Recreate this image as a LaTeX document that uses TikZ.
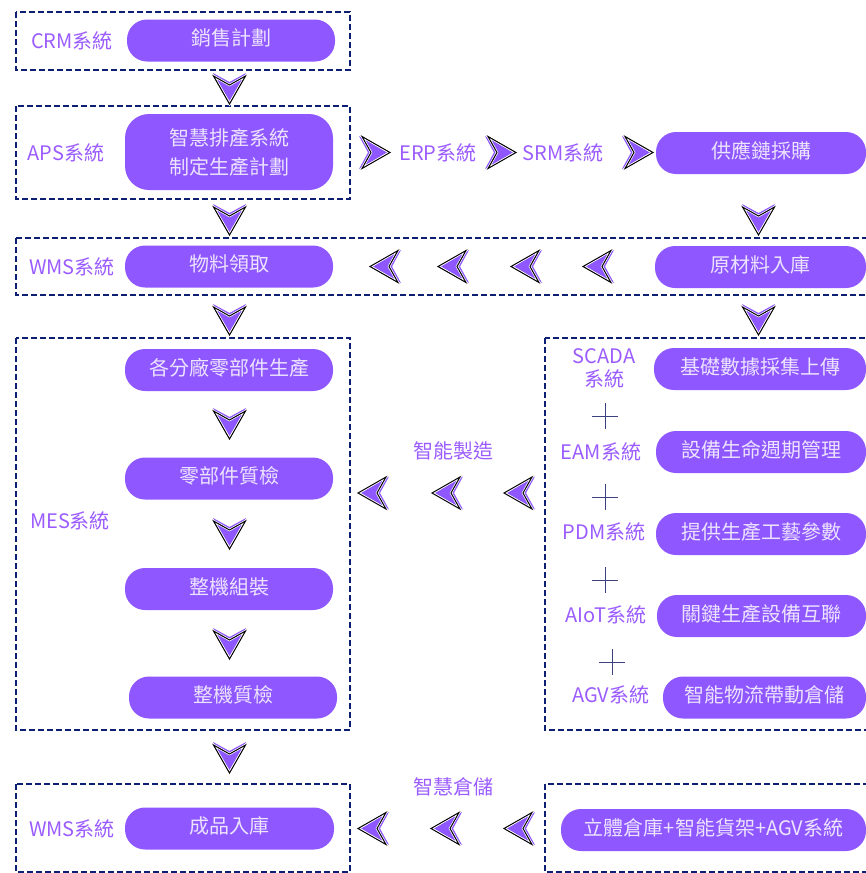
\documentclass[tikz,border=0pt]{standalone}
\usepackage{fontspec}
\setmainfont{Noto Sans CJK TC}
\definecolor{pillc}{HTML}{8F57FF}
\definecolor{pilltxt}{HTML}{ECE3FF}
\definecolor{labc}{HTML}{9B5CFF}
\definecolor{navy}{HTML}{0D1F73}
\definecolor{plusc}{HTML}{3C4280}
\begin{document}
\begin{tikzpicture}[x=1pt,y=-1pt,
  pill/.style={fill=pillc, text=pilltxt, rounded corners=20pt, minimum height=42pt, minimum width=208pt, inner sep=0pt, font=\fontsize{20}{29}\selectfont, align=center, text height=15pt, text depth=5pt},
  lab/.style={text=labc, font=\fontsize{20}{23}\selectfont, inner sep=0pt, align=center},
  frame/.style={draw=navy, line width=2.8pt, dash pattern=on 6pt off 3pt},
  plusline/.style={draw=plusc, line width=1pt},
  chev/.pic={
    \fill[pillc] (-15pt,16.5pt) -- (13pt,0pt) -- (-15pt,-16.5pt) -- (-6pt,0pt) -- cycle;
    \draw[white, line width=2.4pt, line join=miter] (-12pt,16pt) -- (16pt,0pt) -- (-12pt,-16pt) -- (-3pt,0pt) -- cycle;
    \draw[black, line width=1pt, line join=miter] (-12pt,16pt) -- (16pt,0pt) -- (-12pt,-16pt) -- (-3pt,0pt) -- cycle;
  }
]
\useasboundingbox (0,0) rectangle (866,873);

% frames
\draw[frame] (16,12) rectangle (350,70);
\draw[frame] (16,106) rectangle (350,199);
\draw[frame] (16,238) rectangle (880,295);
\draw[frame] (16,338) rectangle (350,730);
\draw[frame] (545,338) rectangle (880,730);
\draw[frame] (16,784) rectangle (350,872);
\draw[frame] (545,784) rectangle (880,872);

% pills
\node[pill] (sales) at (231,40.5) {銷售計劃};
\node[pill, minimum height=76pt, rounded corners=24pt, text height=, text depth=] (aps) at (229,152) {智慧排產系統\\制定生產計劃};
\node[pill, minimum width=210pt] (supply) at (761,153) {供應鏈採購};
\node[pill] (pick) at (229,266.5) {物料領取};
\node[pill, minimum width=211pt] (raw) at (760.5,267) {原材料入庫};
\node[pill] (parts) at (229,370) {各分廠零部件生產};
\node[pill] (pqc) at (229,478.5) {零部件質檢};
\node[pill] (asm) at (229,589) {整機組裝};
\node[pill] (fqc) at (233,697.5) {整機質檢};
\node[pill, minimum width=212pt] (scada) at (760,369) {基礎數據採集上傳};
\node[pill, minimum width=210pt] (eam) at (761,452) {設備生命週期管理};
\node[pill, minimum width=210pt] (pdm) at (761,534) {提供生產工藝參數};
\node[pill, minimum width=209pt] (aiot) at (761.5,616) {關鍵生產設備互聯};
\node[pill, minimum width=203pt] (agv) at (764.5,697.5) {智能物流帶動倉儲};
\node[pill, minimum width=209pt] (fin) at (229.5,828.5) {成品入庫};
\node[pill, minimum width=305pt] (wh) at (713.5,830) {立體倉庫+智能貨架+AGV系統};

% labels
\node[lab] (lcrm) at (72,41) {CRM系統};
\node[lab] (laps) at (66,153) {APS系統};
\node[lab] (lwms) at (72,267) {WMS系統};
\node[lab] (lerp) at (438,153) {ERP系統};
\node[lab] (lsrm) at (563,153) {SRM系統};
\node[lab] (lmes) at (70,521) {MES系統};
\node[lab] (lscada) at (604,368) {SCADA\\系統};
\node[lab] (leam) at (601,452) {EAM系統};
\node[lab] (lpdm) at (604,532) {PDM系統};
\node[lab] (laiot) at (606,615) {AIoT系統};
\node[lab] (lagv) at (611,695) {AGV系統};
\node[lab] (lim) at (453,451) {智能製造};
\node[lab] (liw) at (453,787) {智慧倉儲};
\node[lab] (lwms2) at (72,829) {WMS系統};

% plus signs
\foreach \px/\py in {605/416, 605/497, 605/580, 612/662} {
  \draw[plusline] (\px-13,\py) -- (\px+13,\py);
  \draw[plusline] (\px,\py-13) -- (\px,\py+13);
}

% down chevrons
\foreach \cx/\cy in {229.5/88, 229.5/219, 229.5/319, 758.5/219, 758.5/319, 229.5/423, 229.5/533, 229.5/643, 229.5/757} {
  \pic[rotate=-90] at (\cx,\cy) {chev};
}
% right chevrons
\foreach \cx in {374, 500, 637} {
  \pic at (\cx,152.5) {chev};
}
% left chevrons
\foreach \cx/\cy in {386/266.5, 454/266.5, 527/266.5, 599/266.5, 374/493, 448/493, 520/493, 374/828.5, 447/828.5, 520/828.5} {
  \pic[rotate=180] at (\cx,\cy) {chev};
}
\end{tikzpicture}
\end{document}
